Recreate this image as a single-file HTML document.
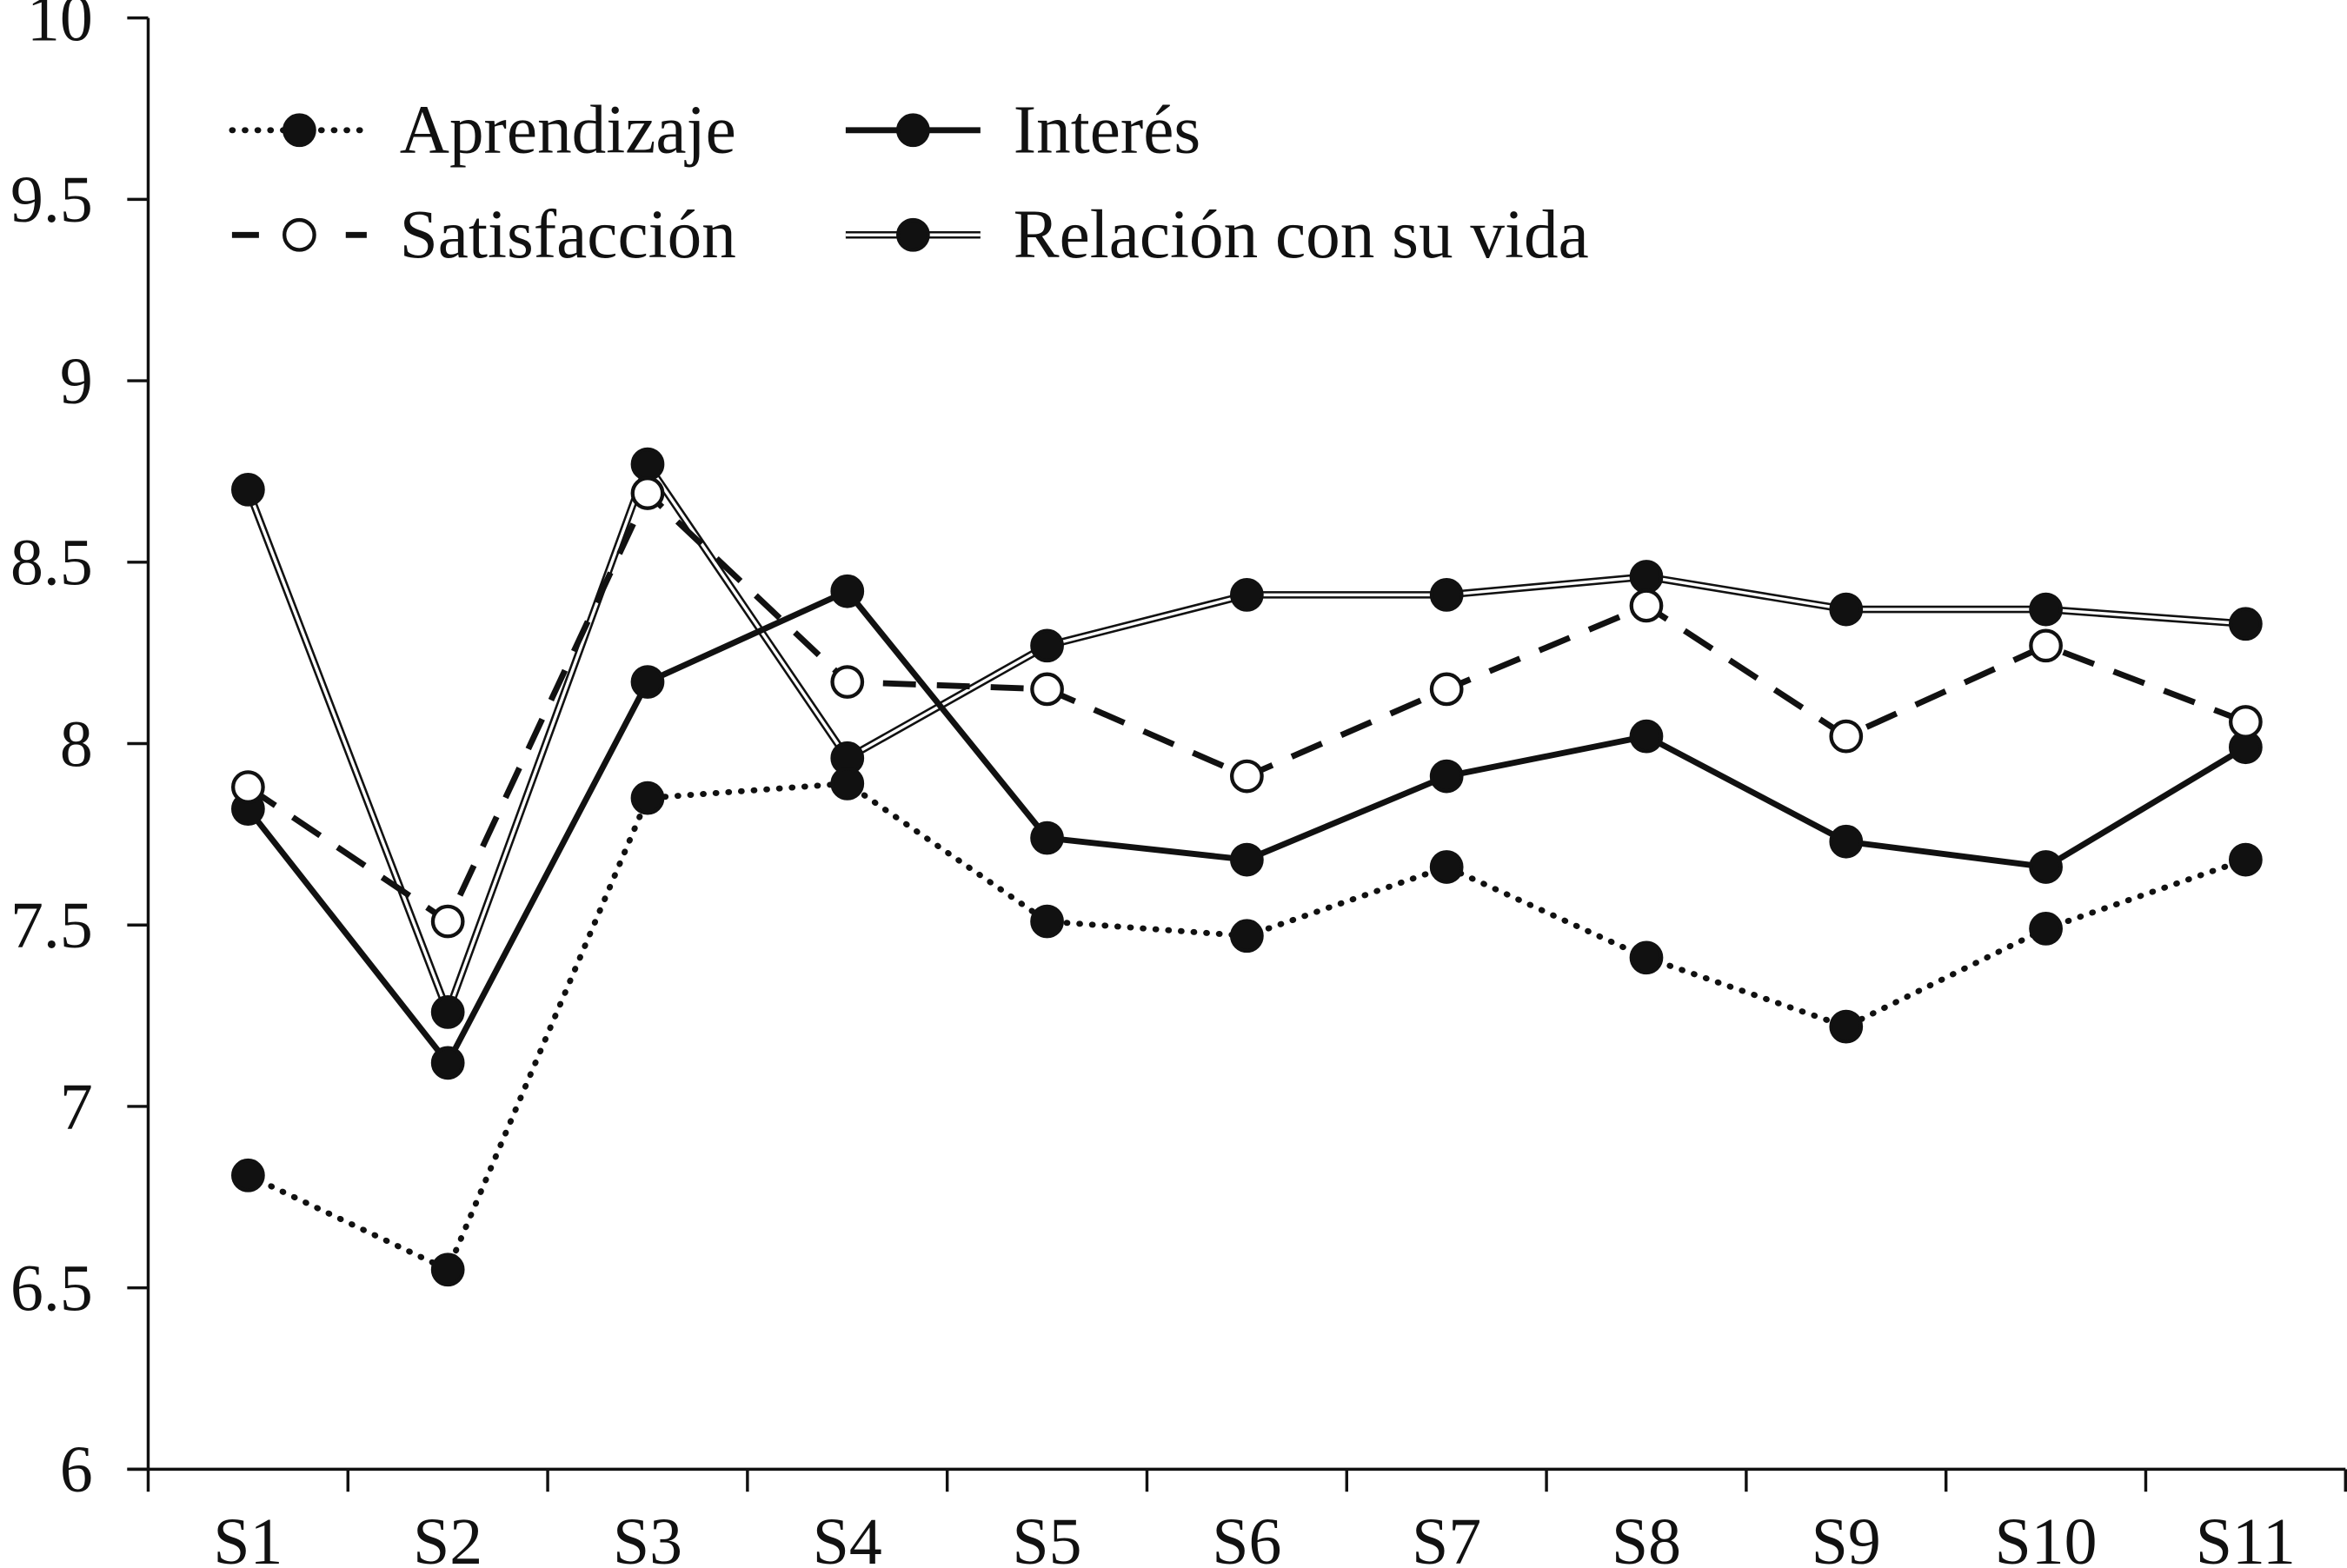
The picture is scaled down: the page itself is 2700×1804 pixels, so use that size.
<!DOCTYPE html>
<html><head><meta charset="utf-8"><style>
html,body{margin:0;padding:0;background:#fff}
svg{display:block}
text{font-family:"Liberation Serif","DejaVu Serif",serif;fill:#111}
</style></head><body>
<svg id="chart" width="2700" height="1804" viewBox="0 0 1568 1048" preserveAspectRatio="none" xmlns="http://www.w3.org/2000/svg">
<g id="axes"></g>
<g id="series"></g>
<g id="legend"></g>
</svg>
<script>
const categories = ["S1","S2","S3","S4","S5","S6","S7","S8","S9","S10","S11"];
const aprendizaje = [6.81,6.55,7.85,7.89,7.51,7.47,7.66,7.41,7.22,7.49,7.68];
const interes = [7.82,7.12,8.17,8.42,7.74,7.68,7.91,8.02,7.73,7.66,7.99];
const satisfaccion = [7.88,7.51,8.69,8.17,8.15,7.91,8.15,8.38,8.02,8.27,8.06];
const relacion = [8.70,7.26,8.77,7.96,8.27,8.41,8.41,8.46,8.37,8.37,8.33];
const yTicks = [6,6.5,7,7.5,8,8.5,9,9.5,10];
const yTickLabels = ["6","6.5","7","7.5","8","8.5","9","9.5","10"];

const NS="http://www.w3.org/2000/svg";
const X0=99, X1=1567, Y0=982, Y1=12;
const band=(X1-X0)/categories.length;
const xs=i=>X0+band*(i+0.5);
const ys=v=>Y0-(v-6)/(10-6)*(Y0-Y1);
function mk(tag,attrs,parent){const e=document.createElementNS(NS,tag);for(const k in attrs)e.setAttribute(k,attrs[k]);parent.appendChild(e);return e;}
const axes=document.getElementById('axes'), ser=document.getElementById('series'), leg=document.getElementById('legend');

let a=mk('line',{x1:X0,y1:Y1,x2:X0,y2:Y0,stroke:'#111','stroke-width':2},axes);


a=mk('line',{x1:85,y1:Y0,x2:X1,y2:Y0,stroke:'#111','stroke-width':2},axes);


yTicks.forEach((v,i)=>{
  const t=mk('line',{x1:85,y1:ys(v),x2:X0,y2:ys(v),stroke:'#111','stroke-width':2},axes);
  
  
  const l=mk('text',{x:62,y:ys(v)+15,'text-anchor':'end','font-size':44},axes);
  l.textContent=yTickLabels[i];
  
  
});
for(let i=0;i<=categories.length;i++){
  const t=mk('line',{x1:X0+band*i,y1:Y0,x2:X0+band*i,y2:997,stroke:'#111','stroke-width':2},axes);
  
  
}
categories.forEach((c,i)=>{
  const l=mk('text',{x:xs(i),y:1045,'text-anchor':'middle','font-size':44},axes);
  l.textContent=c;
  
  
});

function pts(arr){return arr.map((v,i)=>xs(i)+','+ys(v)).join(' ');}
function drawSeries(arr,name,style,open){
  const g=mk('g',{},ser);
  
  
  if(style==='double'){
    mk('polyline',{points:pts(arr),fill:'none',stroke:'#111','stroke-width':5},g);
    mk('polyline',{points:pts(arr),fill:'none',stroke:'#fff','stroke-width':2},g);
  } else {
    const at={points:pts(arr),fill:'none',stroke:'#111','stroke-width':style==='dot'?4:4};
    if(style==='dot'){at['stroke-dasharray']='0.5 8';at['stroke-linecap']='round';}
    if(style==='dash')at['stroke-dasharray']='22 14';
    mk('polyline',at,g);
  }
  arr.forEach((v,i)=>{
    const c=mk('circle',{cx:xs(i),cy:ys(v),r:10,fill:open?'#fff':'#111',stroke:'#111','stroke-width':2.5},g);
    
    
  });
}
drawSeries(relacion,'relacion','double',false);
drawSeries(aprendizaje,'aprendizaje','dot',false);
drawSeries(interes,'interes','solid',false);
drawSeries(satisfaccion,'satisfaccion','dash',true);

function legendEntry(x,y,style,open,label,name){
  const g=mk('g',{},leg);
  
  
  if(style==='double'){
    mk('line',{x1:x,y1:y,x2:x+90,y2:y,stroke:'#111','stroke-width':5},g);
    mk('line',{x1:x,y1:y,x2:x+90,y2:y,stroke:'#fff','stroke-width':2},g);
  } else {
    const at={x1:x,y1:y,x2:x+90,y2:y,stroke:'#111','stroke-width':4};
    if(style==='dot'){at['stroke-dasharray']='0.5 8';at['stroke-linecap']='round';}
    if(style==='dash')at['stroke-dasharray']='18 20';
    mk('line',at,g);
  }
  mk('circle',{cx:x+45,cy:y,r:10,fill:open?'#fff':'#111',stroke:'#111','stroke-width':2.5},g);
  const t=mk('text',{x:x+112,y:y+15,'font-size':46},g);
  t.textContent=label;
}
legendEntry(155,87,'dot',false,'Aprendizaje','legend-aprendizaje');
legendEntry(155,157,'dash',true,'Satisfacción','legend-satisfaccion');
legendEntry(565,87,'solid',false,'Interés','legend-interes');
legendEntry(565,157,'double',false,'Relación con su vida','legend-relacion');
</script>
</body></html>
